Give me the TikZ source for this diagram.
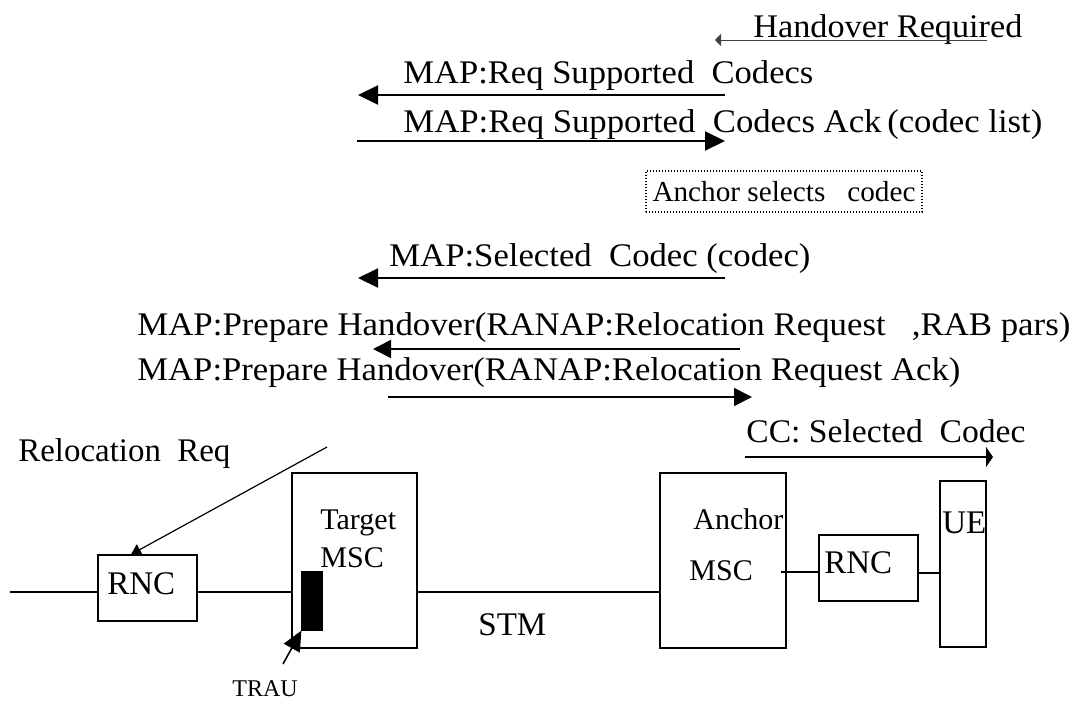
\documentclass[tikz,border=0pt]{standalone}
\usepackage{fontspec}
\setmainfont{Liberation Serif}
\usetikzlibrary{arrows.meta}

\tikzset{
  msg/.style={inner sep=0pt, anchor=base west, font=\fontsize{16.5}{19}\selectfont},
  tag/.style={inner sep=0pt, anchor=base west, font=\fontsize{16.5}{19}\selectfont},
  sub/.style={inner sep=0pt, anchor=base west, font=\fontsize{15}{18}\selectfont},
  blk/.style={draw, line width=0.6pt, inner sep=0pt},
  link/.style={line width=0.6pt},
  fat/.style={line width=1pt, -{Triangle[length=10pt,width=9.5pt]}},
  mid/.style={line width=0.8pt, -{Triangle[length=9pt,width=9pt]}},
}
\newcommand{\fitw}[2]{\resizebox{#1}{\height}{#2}}

\begin{document}
\begin{tikzpicture}[x=0.5pt,y=-0.5pt]
\useasboundingbox (0,0) rectangle (1081,702);

% signalling messages
\node[msg] (horeq) at (753,37) {\fitw{134.5pt}{Handover Required}};
\coordinate (horeqS) at (987,40);
\coordinate (horeqE) at (715,40);
\draw[line width=0.5pt, black!75, -{Triangle[length=3pt,width=6pt]}] (horeqS) -- (horeqE);

\node[msg] (reqcod) at (403,83) {\fitw{205pt}{MAP:Req Supported\ \ Codecs}};
\coordinate (reqcodS) at (725,95);
\coordinate (reqcodE) at (358,95);
\draw[fat] (reqcodS) -- (reqcodE);

\node[msg] (reqack) at (403,132) {\fitw{319.5pt}{MAP:Req Supported\ \ Codecs Ack\,(codec list)}};
\coordinate (reqackS) at (357,141);
\coordinate (reqackE) at (725,141);
\draw[fat] (reqackS) -- (reqackE);

\node[blk, dash pattern=on 0.6pt off 0.9pt, minimum width=138pt, minimum height=20.5pt,
  font=\fontsize{14.5}{17}\selectfont] (selnote) at (784,191.5) {\fitw{131.5pt}{Anchor selects\ \ \ codec}};

\node[msg] (selcod) at (389,266) {\fitw{210.5pt}{MAP:Selected\ \ Codec (codec)}};
\coordinate (selcodS) at (725,278);
\coordinate (selcodE) at (358,278);
\draw[fat] (selcodS) -- (selcodE);

\node[msg] (prepreq) at (137,335) {\fitw{466.5pt}{MAP:Prepare Handover(RANAP:Relocation Request\ \ \ ,RAB pars)}};
\coordinate (prepreqS) at (740,349);
\coordinate (prepreqE) at (373,349);
\draw[mid] (prepreqS) -- (prepreqE);

\node[msg] (prepack) at (137,380) {\fitw{411.5pt}{MAP:Prepare Handover(RANAP:Relocation Request Ack)}};
\coordinate (prepackS) at (388,397);
\coordinate (prepackE) at (752,397);
\draw[mid] (prepackS) -- (prepackE);

\node[msg] (ccsel) at (746,442) {\fitw{139.5pt}{CC: Selected\ \ Codec}};
\coordinate (ccselS) at (745,457);
\coordinate (ccselE) at (993,457);
\draw[link, -{Triangle[length=3.5pt,width=10pt]}] (ccselS) -- (ccselE);

% network elements
\node[blk, minimum width=49.5pt, minimum height=33pt] (rnca) at (147.5,588) {};
\node[blk, minimum width=62.5pt, minimum height=87.5pt] (tmsc) at (354.5,560.5) {};
\node[blk, fill=black, minimum width=10pt, minimum height=29pt] (trau) at (312,601) {};
\node[blk, minimum width=63pt, minimum height=87.5pt] (amsc) at (723,560.5) {};
\node[blk, minimum width=49.5pt, minimum height=33pt] (rncb) at (868.5,568) {};
\node[blk, minimum width=23pt, minimum height=83pt] (ue) at (963,564) {};

\node[tag] (rncat) at (107,594) {RNC};
\node[sub] (tmsct) at (320,529) {Target};
\node[sub] (tmscm) at (320,567) {MSC};
\node[sub] (amsct) at (693,529) {Anchor};
\node[sub] (amscm) at (689,580) {MSC};
\node[tag] (rncbt) at (824,573) {RNC};
\node[tag] (uet) at (942,533) {UE};
\node[tag] (stm) at (478,635) {STM};
\node[tag] (relreq) at (18,461) {\fitw{106pt}{Relocation\ \ Req}};
\node[inner sep=0pt, anchor=base west, font=\fontsize{12}{14}\selectfont] (traut) at (232,696) {TRAU};

% links
\coordinate (lineL) at (10,592);
\coordinate (lineR) at (0,572);
\coordinate (lineU) at (0,573);
\draw[link] (lineL) -- (lineL -| rnca.west);
\draw[link] (rnca.east |- lineL) -- (tmsc.west |- lineL);
\draw[link] (tmsc.east |- lineL) -- (amsc.west |- lineL);
\draw[link] ([xshift=-3pt]amsc.east |- lineR) -- (rncb.west |- lineR);
\draw[link] (rncb.east |- lineU) -- (ue.west |- lineU);

\coordinate (relsrc) at (327,447);
\coordinate (relend) at (131,0);
\draw[link, -{Triangle[length=5pt,width=6pt]}] (relsrc) -- (rnca.north -| relend);
\coordinate (trausrc) at (283,664);
\draw[line width=0.8pt, -{Triangle[length=10pt,width=9pt]}] (trausrc) -- (trau.south west);
\end{tikzpicture}
\end{document}
